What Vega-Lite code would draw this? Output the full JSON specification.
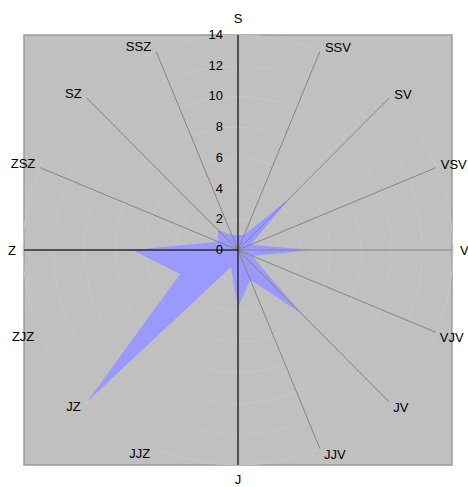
{
  "$schema": "https://vega.github.io/schema/vega-lite/v6.json",
  "width": 428,
  "height": 430,
  "autosize": {"type": "none"},
  "padding": {"left": 24, "top": 35, "right": 16, "bottom": 22},
  "background": "white",
  "config": {
    "view": {"fill": "#c0c0c0", "stroke": "#9c9c9c", "strokeWidth": 1.5},
    "font": "Liberation Sans"
  },
  "datasets": {
    "dirs": [
      {"dir": "S", "angle": 0, "value": 1.0},
      {"dir": "SSV", "angle": 22.5, "value": 1.05},
      {"dir": "SV", "angle": 45, "value": 4.8},
      {"dir": "VSV", "angle": 67.5, "value": 0.9},
      {"dir": "V", "angle": 90, "value": 4.9},
      {"dir": "VJV", "angle": 112.5, "value": 1.0},
      {"dir": "JV", "angle": 135, "value": 5.85},
      {"dir": "JJV", "angle": 157.5, "value": 2.1},
      {"dir": "J", "angle": 180, "value": 3.75},
      {"dir": "JJZ", "angle": 202.5, "value": 1.2},
      {"dir": "JZ", "angle": 225, "value": 13.9},
      {"dir": "ZJZ", "angle": 247.5, "value": 4.1},
      {"dir": "Z", "angle": 270, "value": 6.9},
      {"dir": "ZSZ", "angle": 292.5, "value": 1.4},
      {"dir": "SZ", "angle": 315, "value": 1.85},
      {"dir": "SSZ", "angle": 337.5, "value": 1.05}
    ],
    "rings": [{"r": 2}, {"r": 4}, {"r": 6}, {"r": 8}, {"r": 10}, {"r": 12}, {"r": 14}],
    "ticks": [{"t": 0}, {"t": 2}, {"t": 4}, {"t": 6}, {"t": 8}, {"t": 10}, {"t": 12}, {"t": 14}],
    "axes": [{"axis": "vertical"}, {"axis": "horizontal"}]
  },
  "layer": [
    {
      "data": {"name": "rings"},
      "transform": [{"calculate": "0", "as": "c"}],
      "mark": {"type": "point", "shape": "circle", "filled": false, "stroke": "#c7c7c7", "strokeWidth": 1, "opacity": 1},
      "encoding": {
        "x": {"field": "c", "type": "quantitative", "scale": {"domain": [-14, 14], "nice": false, "zero": false}, "axis": null},
        "y": {"field": "c", "type": "quantitative", "scale": {"domain": [-14, 14], "nice": false, "zero": false}, "axis": null},
        "size": {"field": "r", "type": "quantitative", "scale": {"type": "pow", "exponent": 2, "domain": [0, 14], "range": [0, 184900]}, "legend": null}
      }
    },
    {
      "data": {"name": "dirs"},
      "transform": [
        {"calculate": "datum.value * sin(datum.angle * PI / 180)", "as": "px"},
        {"calculate": "datum.value * cos(datum.angle * PI / 180)", "as": "py"}
      ],
      "mark": {"type": "line", "interpolate": "linear-closed", "fill": "#9999ff", "filled": true, "strokeWidth": 0},
      "encoding": {
        "x": {"field": "px", "type": "quantitative", "scale": {"domain": [-14, 14], "nice": false, "zero": false}, "axis": null},
        "y": {"field": "py", "type": "quantitative", "scale": {"domain": [-14, 14], "nice": false, "zero": false}, "axis": null},
        "order": {"field": "angle", "type": "quantitative"}
      }
    },
    {
      "data": {"name": "dirs"},
      "transform": [
        {"filter": "indexof(['JJZ','JZ','ZJZ'], datum.dir) < 0"},
        {"calculate": "0", "as": "c"},
        {"calculate": "14 * sin(datum.angle * PI / 180)", "as": "ex"},
        {"calculate": "14 * cos(datum.angle * PI / 180)", "as": "ey"}
      ],
      "mark": {"type": "rule", "color": "#858585", "strokeWidth": 1},
      "encoding": {
        "x": {"field": "c", "type": "quantitative", "scale": {"domain": [-14, 14], "nice": false, "zero": false}, "axis": null},
        "y": {"field": "c", "type": "quantitative", "scale": {"domain": [-14, 14], "nice": false, "zero": false}, "axis": null},
        "x2": {"field": "ex"},
        "y2": {"field": "ey"}
      }
    },
    {
      "data": {"name": "axes"},
      "transform": [
        {"calculate": "datum.axis == 'vertical' ? 0 : -14", "as": "ax1"},
        {"calculate": "0", "as": "ax2"},
        {"calculate": "datum.axis == 'vertical' ? -14 : 0", "as": "ay1"},
        {"calculate": "datum.axis == 'vertical' ? 14 : 0", "as": "ay2"}
      ],
      "mark": {"type": "rule", "color": "#000000", "strokeWidth": 1},
      "encoding": {
        "x": {"field": "ax1", "type": "quantitative", "scale": {"domain": [-14, 14], "nice": false, "zero": false}, "axis": null},
        "x2": {"field": "ax2"},
        "y": {"field": "ay1", "type": "quantitative", "scale": {"domain": [-14, 14], "nice": false, "zero": false}, "axis": null},
        "y2": {"field": "ay2"}
      }
    },
    {
      "data": {"name": "ticks"},
      "transform": [{"calculate": "0", "as": "c"}],
      "mark": {"type": "text", "align": "right", "baseline": "middle", "dx": -15, "fontSize": 13, "color": "#000000"},
      "encoding": {
        "x": {"field": "c", "type": "quantitative", "scale": {"domain": [-14, 14], "nice": false, "zero": false}, "axis": null},
        "y": {"field": "t", "type": "quantitative", "scale": {"domain": [-14, 14], "nice": false, "zero": false}, "axis": null},
        "text": {"field": "t", "type": "nominal"}
      }
    },
    {
      "data": {"name": "dirs"},
      "transform": [
        {"filter": "indexof(['SSV','SV','VSV'], datum.dir) >= 0"},
        {"calculate": "14 * sin(datum.angle * PI / 180)", "as": "lx"},
        {"calculate": "14 * cos(datum.angle * PI / 180)", "as": "ly"}
      ],
      "mark": {"type": "text", "align": "left", "baseline": "alphabetic", "dx": 5, "dy": 1, "fontSize": 13, "color": "#000000"},
      "encoding": {
        "x": {"field": "lx", "type": "quantitative", "scale": {"domain": [-14, 14], "nice": false, "zero": false}, "axis": null},
        "y": {"field": "ly", "type": "quantitative", "scale": {"domain": [-14, 14], "nice": false, "zero": false}, "axis": null},
        "text": {"field": "dir", "type": "nominal"}
      }
    },
    {
      "data": {"name": "dirs"},
      "transform": [
        {"filter": "indexof(['SSZ','SZ','ZSZ'], datum.dir) >= 0"},
        {"calculate": "14 * sin(datum.angle * PI / 180)", "as": "lx"},
        {"calculate": "14 * cos(datum.angle * PI / 180)", "as": "ly"}
      ],
      "mark": {"type": "text", "align": "right", "baseline": "alphabetic", "dx": -5, "dy": 0, "fontSize": 13, "color": "#000000"},
      "encoding": {
        "x": {"field": "lx", "type": "quantitative", "scale": {"domain": [-14, 14], "nice": false, "zero": false}, "axis": null},
        "y": {"field": "ly", "type": "quantitative", "scale": {"domain": [-14, 14], "nice": false, "zero": false}, "axis": null},
        "text": {"field": "dir", "type": "nominal"}
      }
    },
    {
      "data": {"name": "dirs"},
      "transform": [
        {"filter": "indexof(['VJV','JV','JJV'], datum.dir) >= 0"},
        {"calculate": "14 * sin(datum.angle * PI / 180)", "as": "lx"},
        {"calculate": "14 * cos(datum.angle * PI / 180)", "as": "ly"}
      ],
      "mark": {"type": "text", "align": "left", "baseline": "alphabetic", "dx": 4, "dy": 10, "fontSize": 13, "color": "#000000"},
      "encoding": {
        "x": {"field": "lx", "type": "quantitative", "scale": {"domain": [-14, 14], "nice": false, "zero": false}, "axis": null},
        "y": {"field": "ly", "type": "quantitative", "scale": {"domain": [-14, 14], "nice": false, "zero": false}, "axis": null},
        "text": {"field": "dir", "type": "nominal"}
      }
    },
    {
      "data": {"name": "dirs"},
      "transform": [
        {"filter": "indexof(['JJZ','JZ','ZJZ'], datum.dir) >= 0"},
        {"calculate": "14 * sin(datum.angle * PI / 180)", "as": "lx"},
        {"calculate": "14 * cos(datum.angle * PI / 180)", "as": "ly"}
      ],
      "mark": {"type": "text", "align": "right", "baseline": "alphabetic", "dx": -6, "dy": 9, "fontSize": 13, "color": "#000000"},
      "encoding": {
        "x": {"field": "lx", "type": "quantitative", "scale": {"domain": [-14, 14], "nice": false, "zero": false}, "axis": null},
        "y": {"field": "ly", "type": "quantitative", "scale": {"domain": [-14, 14], "nice": false, "zero": false}, "axis": null},
        "text": {"field": "dir", "type": "nominal"}
      }
    },
    {
      "data": {"name": "dirs"},
      "transform": [
        {"filter": "datum.dir == 'V'"},
        {"calculate": "14 * sin(datum.angle * PI / 180)", "as": "lx"},
        {"calculate": "14 * cos(datum.angle * PI / 180)", "as": "ly"}
      ],
      "mark": {"type": "text", "align": "left", "baseline": "alphabetic", "dx": 8, "dy": 5, "fontSize": 13, "color": "#000000"},
      "encoding": {
        "x": {"field": "lx", "type": "quantitative", "scale": {"domain": [-14, 14], "nice": false, "zero": false}, "axis": null},
        "y": {"field": "ly", "type": "quantitative", "scale": {"domain": [-14, 14], "nice": false, "zero": false}, "axis": null},
        "text": {"field": "dir", "type": "nominal"}
      }
    },
    {
      "data": {"name": "dirs"},
      "transform": [
        {"filter": "datum.dir == 'Z'"},
        {"calculate": "14 * sin(datum.angle * PI / 180)", "as": "lx"},
        {"calculate": "14 * cos(datum.angle * PI / 180)", "as": "ly"}
      ],
      "mark": {"type": "text", "align": "right", "baseline": "alphabetic", "dx": -8, "dy": 5, "fontSize": 13, "color": "#000000"},
      "encoding": {
        "x": {"field": "lx", "type": "quantitative", "scale": {"domain": [-14, 14], "nice": false, "zero": false}, "axis": null},
        "y": {"field": "ly", "type": "quantitative", "scale": {"domain": [-14, 14], "nice": false, "zero": false}, "axis": null},
        "text": {"field": "dir", "type": "nominal"}
      }
    },
    {
      "data": {"name": "dirs"},
      "transform": [
        {"filter": "datum.dir == 'S'"},
        {"calculate": "14 * sin(datum.angle * PI / 180)", "as": "lx"},
        {"calculate": "14 * cos(datum.angle * PI / 180)", "as": "ly"}
      ],
      "mark": {"type": "text", "align": "center", "baseline": "alphabetic", "dy": -12, "fontSize": 13, "color": "#000000"},
      "encoding": {
        "x": {"field": "lx", "type": "quantitative", "scale": {"domain": [-14, 14], "nice": false, "zero": false}, "axis": null},
        "y": {"field": "ly", "type": "quantitative", "scale": {"domain": [-14, 14], "nice": false, "zero": false}, "axis": null},
        "text": {"field": "dir", "type": "nominal"}
      }
    },
    {
      "data": {"name": "dirs"},
      "transform": [
        {"filter": "datum.dir == 'J'"},
        {"calculate": "14 * sin(datum.angle * PI / 180)", "as": "lx"},
        {"calculate": "14 * cos(datum.angle * PI / 180)", "as": "ly"}
      ],
      "mark": {"type": "text", "align": "center", "baseline": "alphabetic", "dy": 19, "fontSize": 13, "color": "#000000"},
      "encoding": {
        "x": {"field": "lx", "type": "quantitative", "scale": {"domain": [-14, 14], "nice": false, "zero": false}, "axis": null},
        "y": {"field": "ly", "type": "quantitative", "scale": {"domain": [-14, 14], "nice": false, "zero": false}, "axis": null},
        "text": {"field": "dir", "type": "nominal"}
      }
    }
  ]
}
